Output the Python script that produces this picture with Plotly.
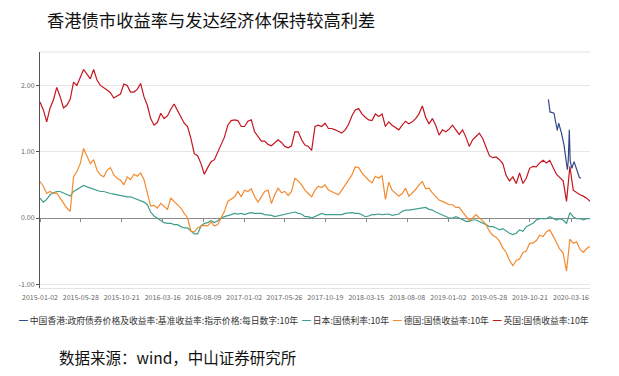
import pandas as pd
import plotly.graph_objects as go

# ---------------- data ----------------
start_date = "2015-01-02"
step = "12D"

uk_10y = [
    1.75, 1.63, 1.45, 1.66, 1.78, 1.97, 1.83, 1.66, 1.70, 1.79,
    2.05, 2.00, 2.12, 2.24, 2.17, 2.10, 2.24, 2.08, 2.00, 1.97,
    1.93, 1.89, 1.81, 1.84, 1.87, 2.02, 2.00, 1.90, 1.90, 1.94,
    2.03, 1.83, 1.70, 1.50, 1.40, 1.44, 1.58, 1.50, 1.54,
    1.64, 1.72, 1.62, 1.52, 1.43, 1.38, 1.20, 0.97, 0.94, 0.82,
    0.66, 0.76, 0.85, 0.88, 1.00, 1.12, 1.22, 1.40, 1.47, 1.48,
    1.47, 1.38, 1.38, 1.46, 1.48, 1.30, 1.22, 1.16, 1.16, 1.11,
    1.09, 1.13, 1.18, 1.14, 1.08, 1.06, 1.09, 1.30, 1.30, 1.18,
    1.10, 1.08, 1.02, 1.38, 1.40, 1.38, 1.43, 1.35, 1.35, 1.33,
    1.30, 1.28, 1.33, 1.41, 1.54, 1.63, 1.65, 1.57, 1.52, 1.48,
    1.47, 1.57, 1.53, 1.57, 1.38, 1.45, 1.40, 1.36, 1.33, 1.40,
    1.46, 1.42, 1.45, 1.50, 1.57, 1.69, 1.52, 1.42, 1.50, 1.40,
    1.25, 1.33, 1.30, 1.34, 1.40, 1.33, 1.26, 1.33, 1.22, 1.08,
    1.18, 1.23, 1.28, 1.20, 1.08, 0.94, 0.91, 0.92, 0.88, 0.82,
    0.64, 0.56, 0.62, 0.52, 0.68, 0.52, 0.60, 0.75, 0.78, 0.77,
    0.83, 0.87, 0.83, 0.87, 0.76, 0.66, 0.61, 0.56, 0.25, 0.78,
    0.42, 0.38, 0.35, 0.33, 0.30, 0.25,
]

de_10y = [
    0.55, 0.48, 0.37, 0.40, 0.37, 0.38, 0.30, 0.22, 0.15, 0.10,
    0.62, 0.70, 0.82, 1.05, 0.92, 0.82, 0.88, 0.72, 0.65, 0.62,
    0.72, 0.76, 0.65, 0.60, 0.57, 0.50, 0.62, 0.58, 0.66, 0.63,
    0.68, 0.58, 0.38, 0.18, 0.19, 0.15, 0.22, 0.17, 0.13,
    0.30, 0.25, 0.20, 0.15, 0.07, 0.00, -0.20, -0.21, -0.15, -0.12,
    -0.11, -0.12, -0.06, -0.12, -0.10, 0.00, 0.10, 0.25, 0.28, 0.32,
    0.40, 0.32, 0.42, 0.40, 0.44, 0.32, 0.24, 0.33, 0.40, 0.42,
    0.22, 0.35, 0.45, 0.38, 0.40, 0.34, 0.40, 0.60, 0.56, 0.50,
    0.42, 0.37, 0.32, 0.42, 0.48, 0.46, 0.50, 0.42, 0.40, 0.37,
    0.35, 0.42, 0.50, 0.57, 0.65, 0.77, 0.76, 0.68, 0.62, 0.57,
    0.53, 0.63, 0.60, 0.64, 0.28, 0.54, 0.42, 0.37, 0.33, 0.37,
    0.45, 0.33, 0.38, 0.43, 0.50, 0.55, 0.44, 0.45, 0.38, 0.33,
    0.27, 0.25, 0.22, 0.20, 0.20, 0.16, 0.16, 0.09, 0.03, -0.04,
    0.00, 0.05, 0.00, -0.04, -0.10, -0.20, -0.26, -0.29, -0.35, -0.45,
    -0.52, -0.64, -0.72, -0.64, -0.62, -0.52, -0.50, -0.38, -0.38, -0.34,
    -0.26, -0.28, -0.21, -0.18, -0.27, -0.37, -0.47, -0.53, -0.80, -0.32,
    -0.38, -0.36, -0.47, -0.52, -0.46, -0.43,
]

jp_10y = [
    0.30, 0.24, 0.28, 0.35, 0.38, 0.40, 0.40, 0.38, 0.36, 0.33,
    0.40, 0.43, 0.45, 0.49, 0.47, 0.45, 0.43, 0.41, 0.40, 0.40,
    0.38, 0.37, 0.36, 0.35, 0.33, 0.33, 0.32, 0.32, 0.30, 0.29,
    0.27, 0.24, 0.20, 0.09, 0.03, 0.00, -0.04, -0.07, -0.08,
    -0.08, -0.10, -0.10, -0.13, -0.15, -0.15, -0.20, -0.24, -0.24, -0.12,
    -0.08, -0.07, -0.04, -0.07, -0.04, 0.00, 0.02, 0.03, 0.05, 0.07,
    0.06, 0.07, 0.05, 0.07, 0.08, 0.07, 0.07, 0.07, 0.05, 0.05,
    0.04, 0.02, 0.03, 0.05, 0.05, 0.06, 0.07, 0.09, 0.07, 0.06,
    0.02, 0.02, 0.00, 0.02, 0.05, 0.07, 0.05, 0.05, 0.05, 0.05,
    0.06, 0.05, 0.07, 0.08, 0.08, 0.07, 0.07, 0.05, 0.02, 0.03,
    0.05, 0.05, 0.06, 0.05, 0.05, 0.06, 0.04, 0.05, 0.06, 0.10,
    0.12, 0.12, 0.13, 0.13, 0.15, 0.15, 0.16, 0.13, 0.12, 0.09,
    0.07, 0.05, 0.03, 0.00, 0.00, 0.02, 0.00, -0.03, -0.05, -0.05,
    -0.03, -0.03, -0.05, -0.08, -0.10, -0.13, -0.13, -0.15, -0.18, -0.16,
    -0.20, -0.23, -0.25, -0.23, -0.18, -0.20, -0.13, -0.10, -0.08, -0.03,
    -0.01, -0.01, -0.01, 0.02, -0.01, -0.03, -0.01, -0.03, -0.08, 0.08,
    0.02, -0.01, -0.01, -0.03, -0.01, -0.01,
]

hk_dates = [
    "2019-12-26", "2020-01-01", "2020-01-15", "2020-01-22", "2020-01-27",
    "2020-02-01", "2020-02-11", "2020-02-20", "2020-02-27", "2020-03-03",
    "2020-03-06", "2020-03-10", "2020-03-13", "2020-03-19", "2020-03-27",
    "2020-04-03", "2020-04-09", "2020-04-15", "2020-04-21",
]
hk_10y = [
    1.79, 1.60, 1.58, 1.45, 1.32,
    1.43, 1.28, 1.10, 0.87, 0.73,
    0.85, 1.33, 0.87, 0.75, 0.85,
    0.75, 0.67, 0.61, 0.60,
]

tick_dates = [
    "2015-01-02", "2015-05-28", "2015-10-21", "2016-03-16", "2016-08-09",
    "2017-01-02", "2017-05-26", "2017-10-19", "2018-03-15", "2018-08-08",
    "2019-01-02", "2019-05-28", "2019-10-21", "2020-03-16",
]
y_ticks = [-1, 0, 1, 2]
y_tick_labels = ["-1.00", "0.00", "1.00", "2.00"]

names = [
    "中国香港:政府债券价格及收益率:基准收益率:指示价格:每日数字:10年",
    "日本:国债利率:10年",
    "德国:国债收益率:10年",
    "英国:国债收益率:10年",
]
colors = ["#34498A", "#3F9E8E", "#F28B30", "#C3161F"]

title_text = "香港债市收益率与发达经济体保持较高利差"
source_text = "数据来源：wind，中山证券研究所"

# ---------------- figure ----------------
dates = pd.date_range(start_date, periods=len(uk_10y), freq=step)
FONT = "Noto Sans CJK SC"
W, H = 611, 368  # page body adds an 8px margin

fig = go.Figure()
fig.add_trace(go.Scatter(x=dates, y=jp_10y, name=names[1], mode="lines",
                         line=dict(color=colors[1], width=1.2)))
fig.add_trace(go.Scatter(x=dates, y=de_10y, name=names[2], mode="lines",
                         line=dict(color=colors[2], width=1.2)))
fig.add_trace(go.Scatter(x=dates, y=uk_10y, name=names[3], mode="lines",
                         line=dict(color=colors[3], width=1.2)))
fig.add_trace(go.Scatter(x=pd.to_datetime(hk_dates), y=hk_10y, name=names[0], mode="lines",
                         line=dict(color=colors[0], width=1.2)))
# helper trace for tick marks drawn on the zero line
fig.add_trace(go.Scatter(x=[dates[0]], y=[0], xaxis="x2", mode="lines",
                         showlegend=False, hoverinfo="skip",
                         line=dict(color="rgba(0,0,0,0)")))

y_range = [-1.056, 2.504]
zero_pos = (0 - y_range[0]) / (y_range[1] - y_range[0])
x_range = [pd.Timestamp(start_date), dates[-1]]

fig.update_layout(
    width=W, height=H,
    margin=dict(l=32, r=29, t=44, b=88),
    paper_bgcolor="white", plot_bgcolor="white",
    showlegend=False,
    font=dict(family=FONT, color="#666"),
    xaxis=dict(
        type="date", range=x_range,
        tickvals=pd.to_datetime(tick_dates), ticktext=tick_dates,
        tickfont=dict(size=7, color="#666"),
        showgrid=False, zeroline=False,
        showline=True, linecolor="#e3e3e3", linewidth=1,
        ticks="", ticklabelstandoff=3,
    ),
    xaxis2=dict(
        type="date", overlaying="x", matches="x", anchor="free", position=zero_pos,
        side="bottom", tickvals=pd.to_datetime(tick_dates),
        showticklabels=False, ticks="outside", ticklen=3, tickcolor="#888",
        showgrid=False, zeroline=False, showline=False,
    ),
    yaxis=dict(
        range=y_range, tickvals=y_ticks, ticktext=y_tick_labels,
        tickfont=dict(size=7, color="#666"),
        showgrid=True, gridcolor="#e6e6e6", gridwidth=1,
        zeroline=True, zerolinecolor="#8a8a8a", zerolinewidth=1,
        showline=True, linecolor="#555", linewidth=1,
        ticks="outside", ticklen=3, tickcolor="#555",
    ),
)

# top border of plot area
fig.add_shape(type="line", xref="paper", yref="paper", x0=0, x1=1, y0=1, y1=1,
              line=dict(color="#e3e3e3", width=1))

# title
fig.add_annotation(text=title_text, xref="paper", yref="paper",
                   x=(45 - 40) / 550, y=(288 - 20) / 236,
                   xanchor="left", yanchor="middle", showarrow=False,
                   font=dict(family=FONT, size=17.3, color="#111"))

# legend (drawn as text, matching the compact legend of the source)
legend_html = "&nbsp;&nbsp;".join(
    f"<span style='color:{colors[i]}'>━</span> {names[i]}" for i in range(4)
)
fig.add_annotation(text=legend_html, xref="paper", yref="paper",
                   x=(17 - 40) / 550, y=(288 - 320) / 236,
                   xanchor="left", yanchor="middle", showarrow=False,
                   font=dict(family=FONT, size=8.8, color="#333"))

fig.add_annotation(text=source_text, xref="paper", yref="paper",
                   x=(57 - 40) / 550, y=(288 - 357) / 236,
                   xanchor="left", yanchor="middle", showarrow=False,
                   font=dict(family=FONT, size=15.5, color="#111"))

fig.write_html("out.html")
